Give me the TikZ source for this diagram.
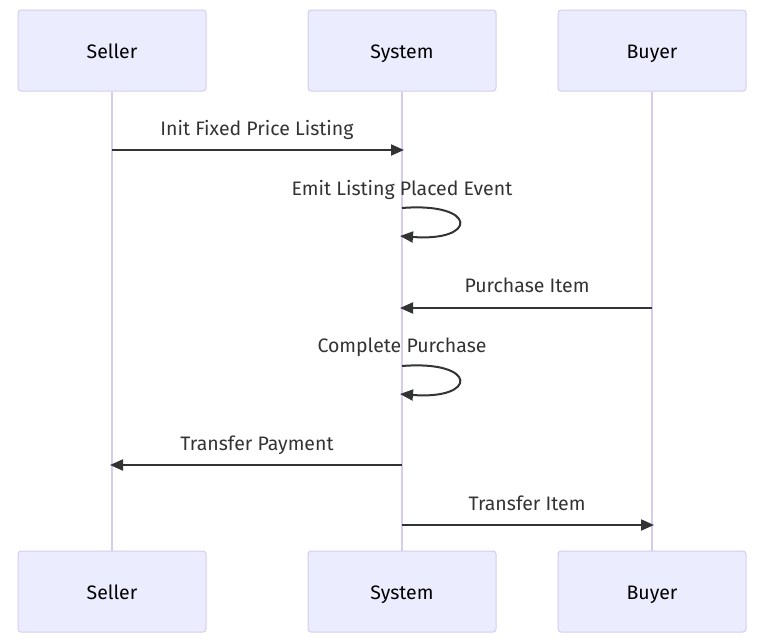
\documentclass[tikz,border=0pt]{standalone}
\usepackage{fontspec}
\setmainfont{Fira Sans}
\usetikzlibrary{arrows.meta,positioning}
\definecolor{actorfill}{HTML}{ECECFF}
\definecolor{actorline}{HTML}{D5CCF0}
\definecolor{msgline}{HTML}{333333}

\begin{document}
\begin{tikzpicture}[x=1pt, y=-1pt, >={Triangle[length=13pt,width=11pt]},
  actor/.style={draw=actorline, fill=actorfill, rounded corners=3pt, line width=1pt, minimum width=188pt, minimum height=81pt, font=\fontsize{19.5}{23}\selectfont, text height=19pt, text depth=4pt},
  life/.style={draw=actorline, line width=2pt},
  msg/.style={draw=msgline, line width=2pt, ->},
  lbl/.style={text=msgline, font=\fontsize{19.5}{23}\selectfont, inner sep=0pt, text height=16pt, text depth=4pt}]
\useasboundingbox (0,0) rectangle (766,643);
% actors, top and bottom
\node[actor] (sellT) at (112,50.5) {Seller};
\node[actor] (sysT)  at (402,50.5) {System};
\node[actor] (buyT)  at (652,50.5) {Buyer};
\node[actor] (sellB) at (112,591.5) {Seller};
\node[actor] (sysB)  at (402,591.5) {System};
\node[actor] (buyB)  at (652,591.5) {Buyer};
\foreach \a in {sell,sys,buy} \draw[life] (\a T.south) -- (\a B.north);
% message ends on the lifelines
\coordinate (m1a) at (112,150); \coordinate (m1b) at (404,150);
\coordinate (m2a) at (402,208); \coordinate (m2b) at (400,236);
\coordinate (m3a) at (652,308); \coordinate (m3b) at (400,308);
\coordinate (m4a) at (402,366); \coordinate (m4b) at (400,394);
\coordinate (m5a) at (402,465); \coordinate (m5b) at (110,465);
\coordinate (m6a) at (402,525); \coordinate (m6b) at (654,525);
\draw[msg] (m1a) -- (m1b);
\draw[msg] (m2a) .. controls (478,202) and (478,242) .. (m2b);
\draw[msg] (m3a) -- (m3b);
\draw[msg] (m4a) .. controls (478,360) and (478,400) .. (m4b);
\draw[msg] (m5a) -- (m5b);
\draw[msg] (m6a) -- (m6b);
% labels
\node[lbl] (l1) at (257,129.5) {Init Fixed Price Listing};
\node[lbl] (l2) at (402,189.5) {Emit Listing Placed Event};
\node[lbl] (l3) at (527,286.5) {Purchase Item};
\node[lbl] (l4) at (402,346.5) {Complete Purchase};
\node[lbl] (l5) at (257,444.5) {Transfer Payment};
\node[lbl] (l6) at (527,504.5) {Transfer Item};
\end{tikzpicture}
\end{document}
